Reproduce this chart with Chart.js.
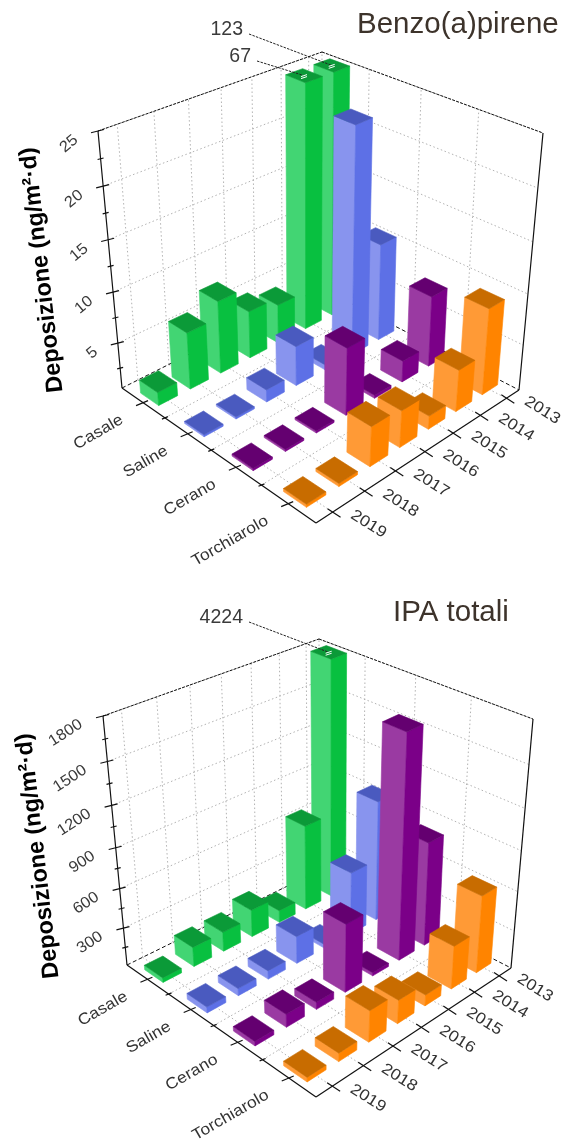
<!DOCTYPE html>
<html><head><meta charset="utf-8">
<style>html,body{margin:0;padding:0;background:#fff;width:565px;height:1139px;overflow:hidden}
canvas{position:absolute;left:0;filter:blur(0.45px)}</style>
<script src="https://cdn.jsdelivr.net/npm/chart.js@4"></script>
</head><body>
<canvas id="c1" style="top:0"></canvas>
<canvas id="c2" style="top:580px"></canvas>
<script>
// ---- data ----
const years = ['2019','2018','2017','2016','2015','2014','2013'];
const sites = ['Casale','Saline','Cerano','Torchiarolo'];
const benzoCasale      = [1.8, 6.1, 7.7, 5.2, 4.4, 67, 123];
const benzoSaline      = [0.7, 0.7, 1.7, 4.4, 1.0, 23, 10.2];
const benzoCerano      = [0.7, 0.7, 0.7, 7.1, 0.8, 2.6, 7.5];
const benzoTorchiarolo = [0.8, 0.8, 4.4, 4.1, 1.8, 4.6, 9.0];
const ipaCasale      = [45, 160, 160, 220, 105, 670, 4224];
const ipaSaline      = [55, 65, 75, 220, 40, 490, 930];
const ipaCerano      = [45, 110, 65, 530, 35, 1670, 800];
const ipaTorchiarolo = [45, 75, 250, 190, 95, 340, 600];
const benzoTicks = [5,10,15,20,25];
const benzoMinor = [2.5,7.5,12.5,17.5,22.5];
const ipaTicks = [300,600,900,1200,1500,1800];
const ipaMinor = [150,450,750,1050,1350,1650];

// ---- styles ----
const palette = [
 {left:'#42d573',right:'#08c040',top:'#0b9a38'},
 {left:'#8894ee',right:'#5d70e6',top:'#4a5abf'},
 {left:'#9a3aa2',right:'#7b0088',top:'#640070'},
 {left:'#ff9a36',right:'#ff8400',top:'#c86c00'}
];
const SANS='"Liberation Sans",Arial,sans-serif';

function homography(p){
  const [x0,y0]=p[0],[x1,y1]=p[1],[x2,y2]=p[2],[x3,y3]=p[3];
  const dx1=x1-x2,dx2=x3-x2,sx=x0-x1+x2-x3,dy1=y1-y2,dy2=y3-y2,sy=y0-y1+y2-y3;
  const den=dx1*dy2-dx2*dy1,g=(sx*dy2-dx2*sy)/den,h=(dx1*sy-sx*dy1)/den;
  const a=x1-x0+g*x1,b=x3-x0+h*x3,d=y1-y0+g*y1,e=y3-y0+h*y3;
  return (u,t)=>{const q=g*u+h*t+1;return [(a*u+b*t+x0)/q,(d*u+e*t+y0)/q];};
}

const plugin3d={
 id:'bars3d',
 beforeDatasetsDraw(chart){
  const o=chart.options.plugins.bars3d, ctx=chart.ctx;
  const X=chart.scales.x,S=chart.scales.site,Y=chart.scales.y;
  const floor=homography(o.floor),roof=homography(o.roof);
  const tOf=i=>(X.getPixelForValue(i)-X.left)/X.width;
  const uOf=i=>(S.getPixelForValue(i)-S.left)/S.width;
  const wOf=v=>{const w=(Y.bottom-Y.getPixelForValue(v))/(Y.bottom-Y.top);return w*(1-o.persp)/(1-o.persp*w);};
  const P=(u,t,w)=>{const a=floor(u,t),b=roof(u,t);return [a[0]+(b[0]-a[0])*w,a[1]+(b[1]-a[1])*w];};
  const line=(a,b)=>{ctx.beginPath();ctx.moveTo(a[0],a[1]);ctx.lineTo(b[0],b[1]);ctx.stroke();};
  const poly=(pts,fill)=>{ctx.beginPath();pts.forEach((p,i)=>i?ctx.lineTo(p[0],p[1]):ctx.moveTo(p[0],p[1]));ctx.closePath();ctx.fillStyle=fill;ctx.strokeStyle=fill;ctx.lineWidth=.6;ctx.fill();ctx.stroke();};
  const text=(s,x,y,font,color,align,rot,sy)=>{ctx.save();ctx.translate(x,y);ctx.rotate(rot*Math.PI/180);ctx.scale(1,sy||1);ctx.font=font;ctx.fillStyle=color;ctx.textAlign=align;ctx.textBaseline='middle';ctx.fillText(s,0,0);ctx.restore();};
  ctx.save();
  ctx.translate(0,-o.offsetY);
  // grid
  ctx.strokeStyle='#a9a9a9';ctx.lineWidth=.9;ctx.setLineDash([1.5,2.5]);
  years.forEach((_,i)=>{const t=tOf(i);line(P(0,t,0),P(1,t,0));line(P(0,t,0),P(0,t,1));});
  [0.25,0.5,0.75].forEach(u=>{line(P(u,0,0),P(u,1,0));line(P(u,1,0),P(u,1,1));});
  o.ticks.forEach(v=>{const w=wOf(v);line(P(0,0,w),P(0,1,w));line(P(0,1,w),P(1,1,w));});
  line(P(0,1,0),P(0,1,1));
  // back frame
  ctx.strokeStyle='#111';ctx.lineWidth=1;ctx.setLineDash([4,2.5]);
  line(P(0,0,0),P(0,1,0));line(P(0,1,0),P(1,1,0));
  ctx.setLineDash([3,1.2]);
  line(P(0,0,1),P(0,1,1));line(P(0,1,1),P(1,1,1));
  ctx.setLineDash([]);
  // axes
  ctx.strokeStyle='#111';ctx.lineWidth=1.2;
  line(P(0,0,0),P(1,0,0));line(P(1,0,0),P(1,1,0));
  line(P(0,0,0),P(0,0,1));line(P(1,1,0),P(1,1,1));
  // z ticks
  const zt=(v,l,r)=>{const p=P(0,0,wOf(v));line([p[0]-l,p[1]+l*.25],[p[0]+r,p[1]-r*.25]);return p;};
  o.minor.forEach(v=>zt(v,3,3));
  o.ticks.forEach(v=>{const p=zt(v,7,6);text(String(v),p[0]-22,p[1]+7,'16.5px '+SANS,'#3a3a3a','right',o.zRot,.95);});
  // site ticks and labels
  [0.25,0.5,0.75].forEach(u=>{const p=P(u,0,0);line([p[0]-3,p[1]+1.2],[p[0]+3,p[1]-1.2]);});
  sites.forEach((s,i)=>{const p=P(uOf(i),0,0);line([p[0]-7,p[1]+3],[p[0]+5,p[1]-2]);
    text(s,p[0]-21,p[1]+16,'17.5px '+SANS,'#333','right',-30,.9);});
  years.forEach((y,i)=>{const p=P(1,tOf(i),0);line([p[0]-5,p[1]-3.5],[p[0]+8,p[1]+5]);
    text(y,p[0]+36,p[1]+12,'17.5px '+SANS,'#333','center',32,.9);});
  // bars, far to near
  const bars=[];
  chart.data.datasets.forEach((ds,si)=>ds.data.forEach((v,yi)=>bars.push({si,yi,v,u:uOf(si),t:tOf(yi)})));
  bars.sort((a,b)=>(a.u-a.t)-(b.u-b.t));
  bars.forEach(b=>{
    const c=palette[b.si],w=wOf(Math.min(b.v,Y.max));
    const u0=b.u-o.du/2,u1=b.u+o.du/2,t0=b.t-o.dt/2,t1=b.t+o.dt/2;
    poly([P(u0,t0,0),P(u1,t0,0),P(u1,t0,w),P(u0,t0,w)],c.left);
    poly([P(u1,t0,0),P(u1,t1,0),P(u1,t1,w),P(u1,t0,w)],c.right);
    poly([P(u0,t0,w),P(u1,t0,w),P(u1,t1,w),P(u0,t1,w)],c.top);
  });
  // off-scale value labels with leader lines
  o.offscale.forEach(a=>{
    const v=chart.data.datasets[a.site].data[a.year];
    const e=P(uOf(a.site),tOf(a.year),1);
    ctx.strokeStyle='#222';ctx.lineWidth=1;ctx.setLineDash([2.5,1.2]);
    line([a.x+6,a.y+4],[e[0],e[1]]);
    ctx.setLineDash([]);
    ctx.strokeStyle='#fff';ctx.lineWidth=1;
    line([e[0]-3,e[1]+1],[e[0]+3,e[1]-1]);line([e[0]-3,e[1]+3],[e[0]+3,e[1]+1]);
    text(String(v),a.x,a.y,'19.5px '+SANS,'#3a3a3a','right',0,1);
  });
  // titles
  text(o.title,o.titleX,o.titleY,o.titleFont,'#3d332b','left',0);
  text('Deposizione (ng/m²·d)',o.zTitleX,o.zTitleY,'bold 23.5px '+SANS,'#000','center',-96.5);
  ctx.restore();
  return false;
 }
};

function build(id,h,series,yMin,yMax,opt){
  const cv=document.getElementById(id);
  cv.width=565;cv.height=h;cv.style.width='565px';cv.style.height=h+'px';
  return new Chart(cv,{
    type:'bar',
    plugins:[plugin3d],
    data:{labels:years,datasets:sites.map((s,i)=>({label:s,data:series[i],backgroundColor:palette[i].right}))},
    options:{
      responsive:false,animation:false,devicePixelRatio:1,
      layout:{padding:0},
      scales:{
        x:{type:'category',display:false,offset:true},
        site:{type:'category',axis:'x',labels:sites,display:false,offset:true},
        y:{type:'linear',display:false,min:yMin,max:yMax}
      },
      plugins:{legend:{display:false},tooltip:{enabled:false},title:{display:false},bars3d:opt}
    }
  });
}

build('c1',580,[benzoCasale,benzoSaline,benzoCerano,benzoTorchiarolo],0.5,25,{
  offsetY:0,
  floor:[[122,388],[316,523],[519,390],[321,288]],
  roof:[[98,131],[316,258],[543,133],[322,52]],
  persp:.06,du:.105,dt:.085,zRot:-40,
  ticks:benzoTicks,minor:benzoMinor,
  offscale:[{site:0,year:6,x:243,y:30},{site:0,year:5,x:251,y:57}],
  title:'Benzo(a)pirene',titleX:357,titleY:25,titleFont:'29.5px '+SANS,
  zTitleX:42,zTitleY:270
});
build('c2',559,[ipaCasale,ipaSaline,ipaCerano,ipaTorchiarolo],10,1800,{
  offsetY:580,
  floor:[[127,965],[316,1097],[511,968],[320,870]],
  roof:[[103,716],[316,838],[533,719],[319,639]],
  persp:.10,du:.11,dt:.085,zRot:-33,
  ticks:ipaTicks,minor:ipaMinor,
  offscale:[{site:0,year:6,x:243,y:618}],
  title:'IPA totali',titleX:393,titleY:613,titleFont:'29.5px '+SANS,
  zTitleX:38,zTitleY:856
});
</script>
</body></html>
